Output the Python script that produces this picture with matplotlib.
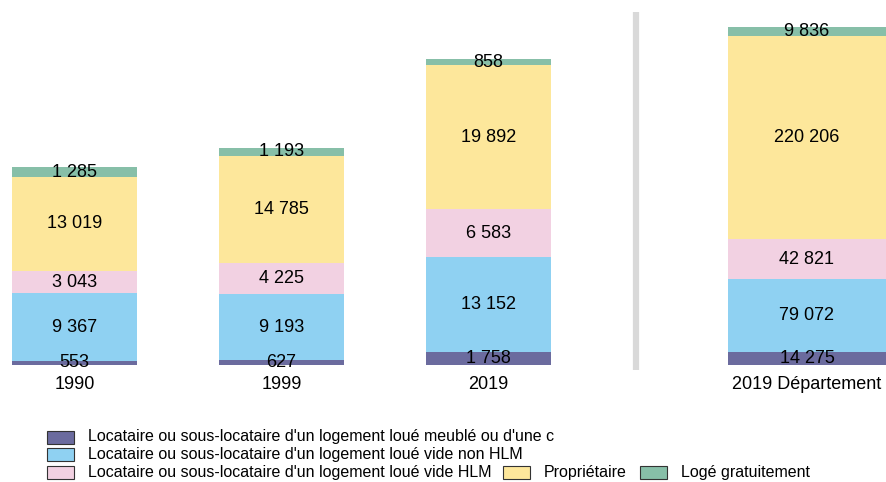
import numpy as np
import matplotlib.pyplot as plt
from matplotlib.patches import Rectangle
from matplotlib.lines import Line2D

plt.rcParams['font.family'] = ['Liberation Sans', 'DejaVu Sans']

years = ['1990', '1999', '2019']
dept_label = '2019 Département'
series = ["Locataire ou sous-locataire d'un logement loué meublé ou d'une c",
          "Locataire ou sous-locataire d'un logement loué vide non HLM",
          "Locataire ou sous-locataire d'un logement loué vide HLM",
          "Propriétaire",
          "Logé gratuitement"]
colors = ['#6b6b9e', '#8fd1f2', '#f2d1e2', '#fde79b', '#87bfa8']

meuble = [553, 627, 1758]
vide_non_hlm = [9367, 9193, 13152]
vide_hlm = [3043, 4225, 6583]
proprietaire = [13019, 14785, 19892]
gratuit = [1285, 1193, 858]
dept = [14275, 79072, 42821, 220206, 9836]

W, H = 886, 482
fig = plt.figure(figsize=(W / 100, H / 100), dpi=100)

base_px, top_px = 365, 27
bottom = (H - base_px) / H
height = (base_px - top_px) / H
lab_off = 11 / (base_px - top_px)  # gap under the bars, as axis fraction
fs = 13

def fmt(v):
    return '{:,}'.format(v).replace(',', ' ')

# commune bars
ax1 = fig.add_axes([0, bottom, 600 / W, height])
step = 207.0
ax1.set_xlim(-74.5 / step, (600 - 74.5) / step)
ax1.set_ylim(0, 42243 * 338 / 306)
data = [meuble, vide_non_hlm, vide_hlm, proprietaire, gratuit]
x = np.arange(len(years))
acc = np.zeros(len(years))
for vals, c in zip(data, colors):
    ax1.bar(x, vals, bottom=acc, width=125 / step, color=c, linewidth=0)
    for xi, b, v in zip(x, acc, vals):
        ax1.text(xi, b + v / 2, fmt(v), ha='center', va='center', fontsize=fs)
    acc += np.array(vals)
for xi, lab in zip(x, years):
    ax1.text(xi, -lab_off * ax1.get_ylim()[1], lab, ha='center', va='top', fontsize=fs)
ax1.axis('off')

# departement bar
ax2 = fig.add_axes([640 / W, bottom, (W - 640) / W, height])
ax2.set_xlim(640, W)
ax2.set_ylim(0, sum(dept))
b = 0
for v, c in zip(dept, colors):
    ax2.bar(807, v, bottom=b, width=158, color=c, linewidth=0)
    ax2.text(807, b + v / 2, fmt(v), ha='center', va='center', fontsize=fs)
    b += v
ax2.text(807, -lab_off * sum(dept), dept_label, ha='center', va='top', fontsize=fs)
ax2.axis('off')

# separator
fig.add_artist(Line2D([635.5 / W, 635.5 / W], [1 - 12 / H, 1 - 370 / H],
                      color='#d9d9d9', linewidth=4.5, solid_capstyle='butt'))

# legend
rows = [(47, 437, 0), (47, 454, 1), (47, 472, 2), (503, 472, 3), (640, 472, 4)]
for px, py, i in rows:
    fig.add_artist(Rectangle((px / W, 1 - (py + 6.5) / H), 27 / W, 13 / H,
                             facecolor=colors[i], edgecolor='#333333', linewidth=0.8))
    fig.text((px + 41) / W, 1 - py / H, series[i], ha='left', va='center', fontsize=11.5)

fig.savefig('out.png', dpi=100)
